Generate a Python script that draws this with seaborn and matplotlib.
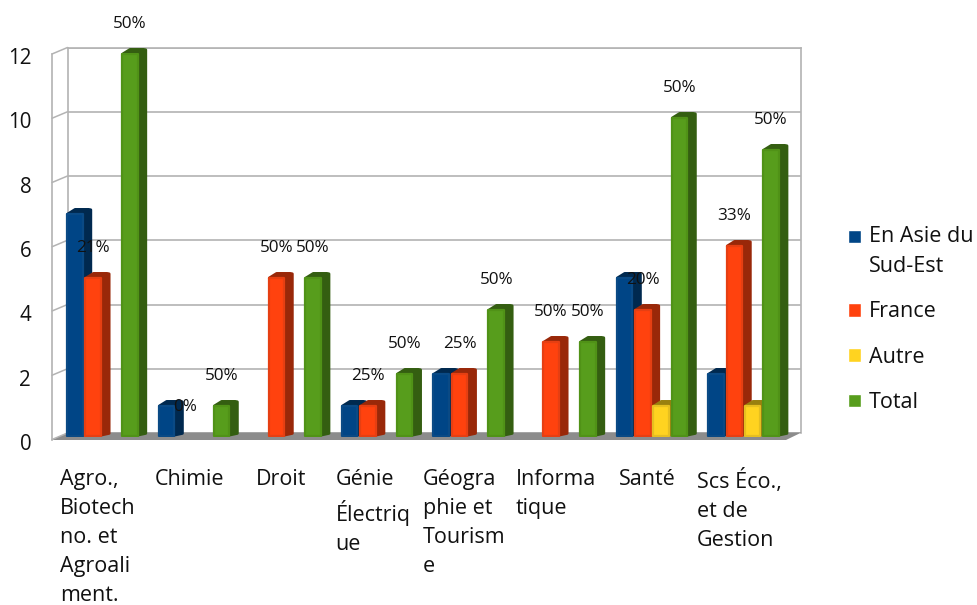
import matplotlib
matplotlib.use("Agg")
import matplotlib.pyplot as plt
from matplotlib.patches import Polygon
from matplotlib.transforms import ScaledTranslation
import pandas as pd
import seaborn as sns

categories = ["Agro.,\nBiotech\nno. et\nAgroali\nment.", "Chimie", "Droit", "Génie\nÉlectriq\nue",
              "Géogra\nphie et\nTourism\ne", "Informa\ntique", "Santé", "Scs Éco.,\net de\nGestion"]
asie = [7, 1, 0, 1, 2, 0, 5, 2]
france = [5, 0, 5, 1, 2, 3, 4, 6]
autre = [0, 0, 0, 0, 0, 0, 1, 1]
total = [12, 1, 5, 2, 4, 3, 10, 9]
series_names = ["En Asie du\nSud-Est", "France", "Autre", "Total"]
pct_france = ["21%", "0%", "50%", "25%", "25%", "50%", "20%", "33%"]
pct_total = ["50%"] * 8
yticks = [0, 2, 4, 6, 8, 10, 12]
colors = ["#004586", "#ff420e", "#ffd320", "#579d1c"]
edges = ["#0a4a85", "#e63f12", "#e6bf20", "#509217"]
dark = ["#00294f", "#992809", "#99800f", "#345e11"]

sns.set_theme(style="white")
plt.rcParams["font.family"] = ["Open Sans", "DejaVu Sans"]
W, H = 978, 605
fig = plt.figure(figsize=(W / 100, H / 100), dpi=100, facecolor="white")


def rect(l, t, r, b):
    return [l / W, 1 - b / H, (r - l) / W, (b - t) / H]


GRID = "#b3b3b3"
# back wall
axB = fig.add_axes(rect(67.5, 47.5, 801.5, 433), zorder=0)
axB.set_ylim(0, 12)
axB.set_xlim(0, 1)
axB.set_yticks(yticks)
axB.set_xticks([])
axB.tick_params(left=False, labelleft=False)
axB.grid(axis="y", color=GRID, lw=1.2)
for s in ["left", "right", "top"]:
    axB.spines[s].set_color(GRID)
    axB.spines[s].set_linewidth(1.2)
axB.spines["bottom"].set_visible(False)

# floor and slanted ticks, in pixel coordinates
axP = fig.add_axes([0, 0, 1, 1], zorder=1)
axP.set_xlim(0, W)
axP.set_ylim(H, 0)
axP.axis("off")
axP.patch.set_alpha(0)
axP.add_patch(Polygon([(52, 440), (786, 440), (801.5, 432.5), (67.5, 432.5)], closed=True, fc="#8c8c8c", ec="none"))
for v in yticks:
    yb = 433 - (433 - 47.5) / 12 * v
    axP.plot([52, 67.5], [yb + 6.5, yb], color=GRID, lw=1.1)

# front-left edge with value labels
axF = fig.add_axes(rect(52, 54, 52.01, 440), zorder=1)
axF.set_ylim(0, 12)
axF.set_xticks([])
axF.set_yticks(yticks)
axF.patch.set_alpha(0)
axF.tick_params(axis="y", length=0, pad=15, labelsize=14.8, labelcolor="#111111")
for s in ["right", "top", "bottom"]:
    axF.spines[s].set_visible(False)
axF.spines["left"].set_color(GRID)
axF.spines["left"].set_linewidth(1.2)
for lab in axF.get_yticklabels():
    lab.set_transform(lab.get_transform() + ScaledTranslation(0, -0.02, fig.dpi_scale_trans))

# bars
ax = fig.add_axes(rect(56.8, 437 - 32.0 * 12, 789.6, 437), zorder=2)
ax.patch.set_alpha(0)
df = pd.DataFrame({"cat": categories * 4,
                   "val": asie + france + autre + total,
                   "serie": [s for s in series_names for _ in categories]})
sns.barplot(data=df, x="cat", y="val", hue="serie", order=categories, hue_order=series_names,
            palette=colors, width=0.8, gap=0, ax=ax, errorbar=None, saturation=1, legend=True)
ax.set_xlim(-0.5, 7.5)
ax.set_ylim(0, 12)
ax.set_xlabel("")
ax.set_ylabel("")
ax.set_yticks([])
sns.despine(ax=ax, left=True, bottom=True)

n = len(categories)
bars = list(ax.patches)[:4 * n]
dx = 8.0 / 91.6
dy = 4.0 / 32.0
for i, b in enumerate(bars):
    h_idx = i // n
    h = b.get_height()
    x0 = b.get_x()
    w = b.get_width()
    x1 = x0 + w
    b.set_zorder(5 + 2 * h_idx)
    if h <= 0:
        b.set_visible(False)
        continue
    b.set_edgecolor(edges[h_idx])
    b.set_linewidth(1.6)
    b.set_joinstyle("round")
    b.set_x(x0 + 0.012)
    b.set_width(w - 0.03)
    b.set_y(0.03)
    b.set_height(h - 0.05)
    side = Polygon([(x1 - 0.03, 0.05), (x1 + dx - 0.016, dy * 0.9), (x1 + dx - 0.016, h + dy * 0.8),
                    (x1 + dx - 0.04, h + dy * 0.9), (x0 + w * 0.5, h + dy * 0.9), (x0 + 0.02, h - 0.03)],
                   closed=True, fc=dark[h_idx], ec=dark[h_idx], lw=2.0,
                   joinstyle="round", zorder=4 + 2 * h_idx, clip_on=False)
    ax.add_patch(side)

# percent labels
for idx, labels in [(1, pct_france), (3, pct_total)]:
    for j, t in enumerate(labels):
        b = bars[idx * n + j]
        top = b.get_y() + b.get_height() if b.get_visible() else 0
        ax.annotate(t, (b.get_x() + b.get_width() / 2, top), xytext=(0, 30 * 0.72),
                    textcoords="offset points", ha="center", va="center", fontsize=12.3,
                    color="#111111", annotation_clip=False, zorder=30)

# category labels
ax.tick_params(axis="x", length=0, pad=23, labelsize=15.5, labelcolor="#111111")
for lab in ax.get_xticklabels():
    lab.set_multialignment("left")
    lab.set_linespacing(1.5)
    lab.set_transform(lab.get_transform() + ScaledTranslation(-0.045, 0, fig.dpi_scale_trans))

# legend
h, l = ax.get_legend_handles_labels()
leg = ax.legend(h, l, loc="upper left", bbox_to_anchor=(848 / W, 1 - 226 / H),
                bbox_transform=fig.transFigure, frameon=False, fontsize=15.5, ncol=1,
                handlelength=0.6, handleheight=0.6, handletextpad=0.37, labelspacing=1.13,
                borderpad=0, borderaxespad=0, labelcolor="#111111")
for t in leg.get_texts():
    t.set_multialignment("left")
    t.set_linespacing(1.56)
first = leg.legend_handles[0]
first.set_y(first.get_y() + 11)

fig.savefig("out.png", dpi=100)
